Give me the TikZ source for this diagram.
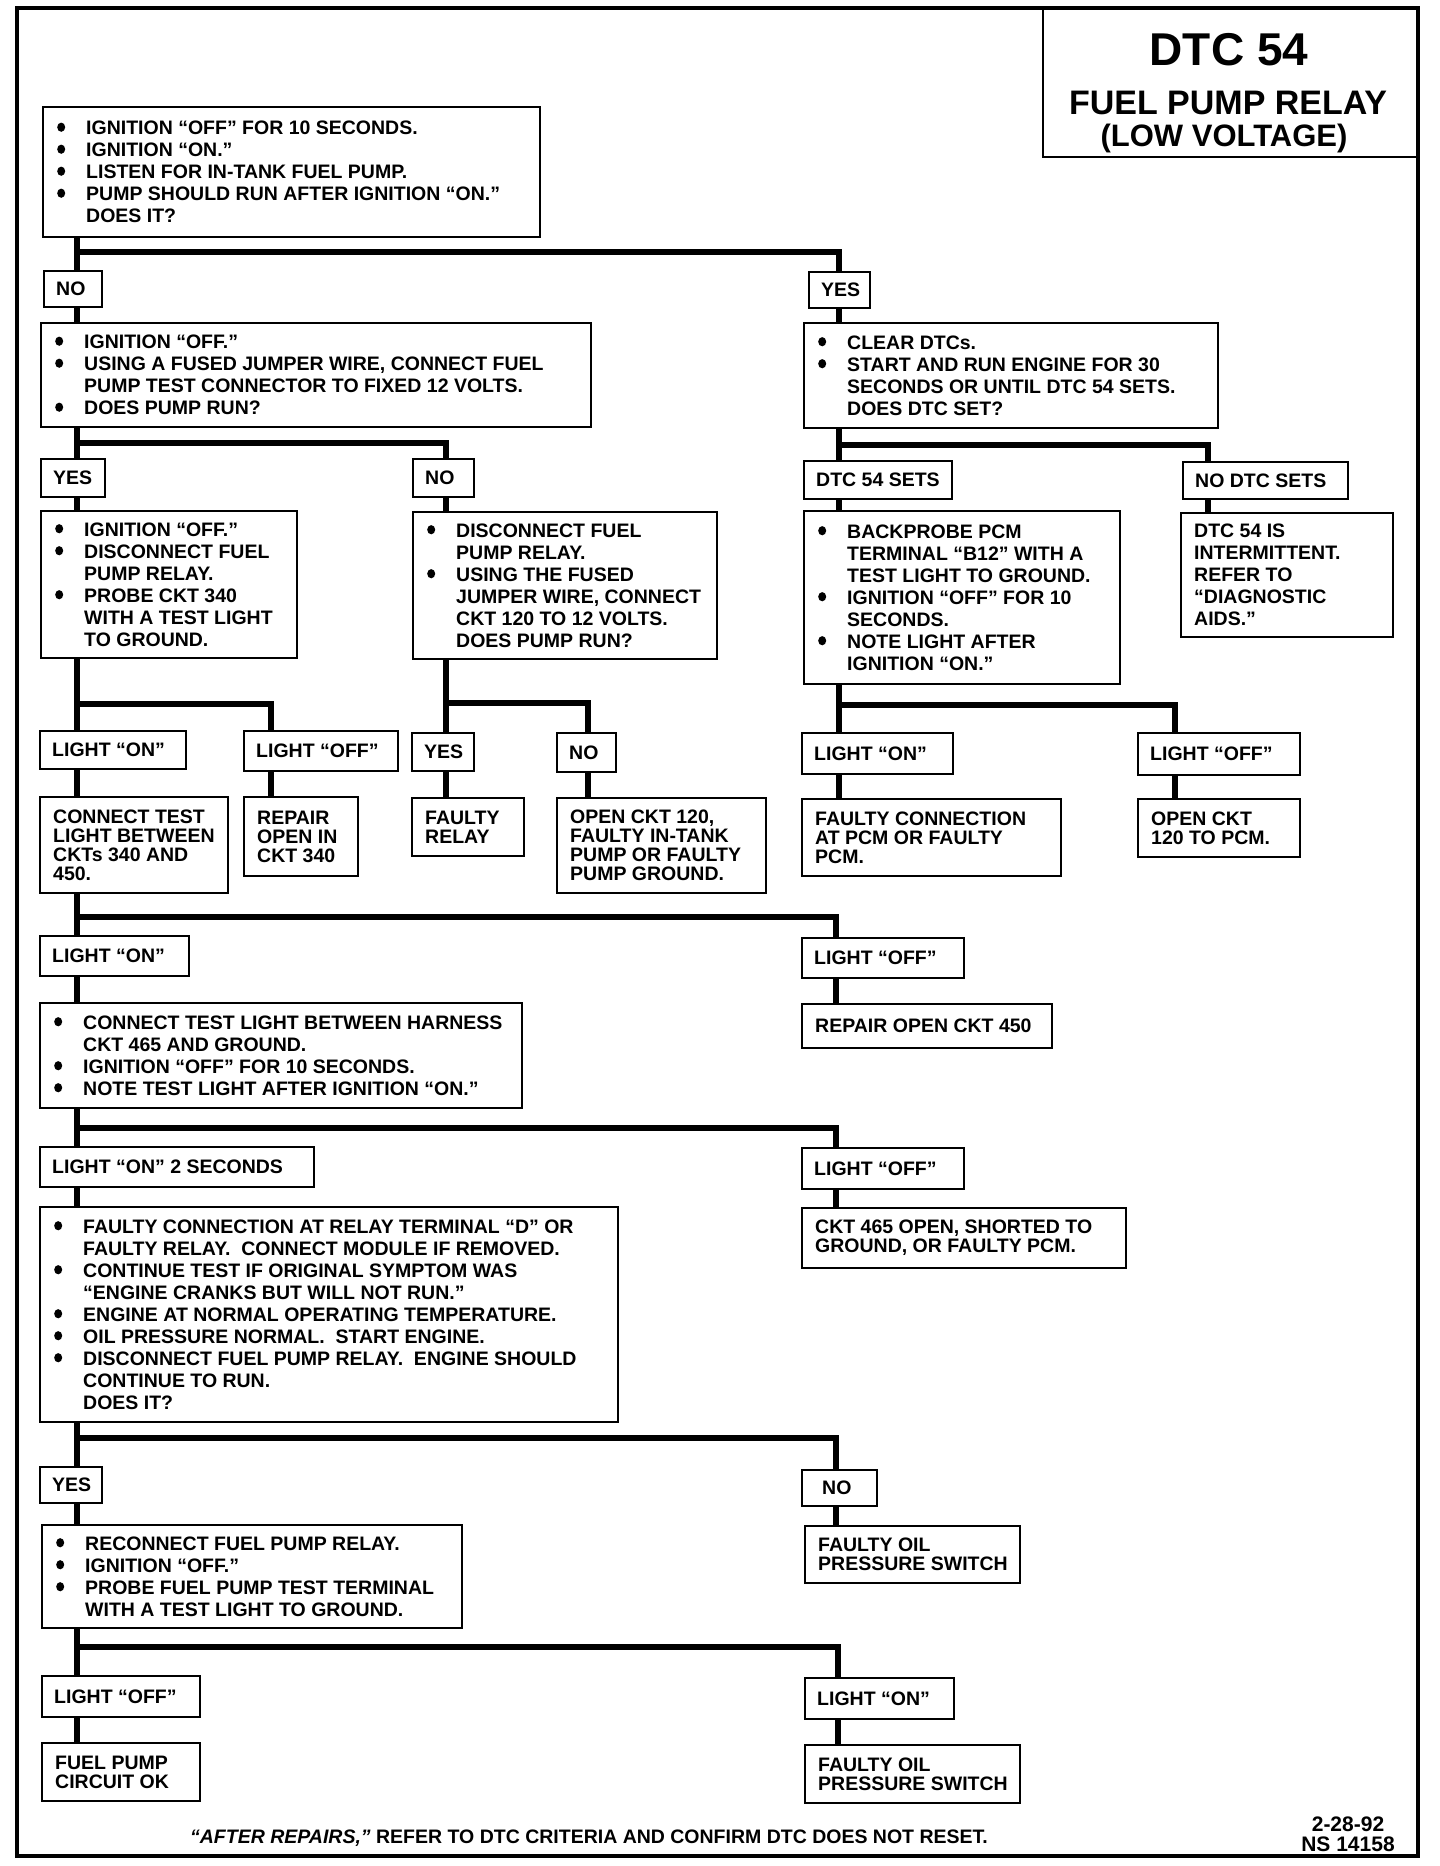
\documentclass[tikz,border=0pt]{standalone}
\usepackage{fontspec}
\setmainfont{Liberation Sans}
\usepackage{graphicx}
\newcommand\bodyfont{\fontsize{19.5}{22}\selectfont\bfseries}
\newcommand\tightfont{\fontsize{19.5}{19}\selectfont\bfseries}
\newcommand\bul{\makebox[30pt][l]{\hspace{1pt}\tikz[baseline=0pt]\fill (0pt,7.5pt) ellipse [x radius=4pt, y radius=4.6pt];}}
\newcommand\ind{\hspace*{30pt}}
\tikzset{
  bx/.style={draw, line width=2pt, anchor=north west, inner sep=0pt, outer sep=0pt},
  txt/.style={anchor=west, inner xsep=13pt, inner ysep=0pt, align=left, font=\bodyfont},
  lab/.style={inner xsep=12pt},
  tight/.style={font=\tightfont},
  conn/.style={line width=5.5pt, line join=miter},
  ttl/.style={anchor=base, inner sep=0pt}
}
% [text opts]{name}{left}{top}{right}{bottom}{text}
\newcommand\fbx[7][]{%
  \node[bx, minimum width={(#5-#3)*1pt}, minimum height={(#6-#4)*1pt}] (#2) at (#3,#4) {};
  \node[txt,#1] (#2t) at (#2.west) {#7};}
\begin{document}
\begin{tikzpicture}[x=1pt,y=-1pt]
\useasboundingbox (0,0) rectangle (1440,1866);

% title
\node[bx, line width=2.5pt, minimum width=375pt, minimum height=149pt] (title) at (1043,8) {};
\node[ttl, font=\fontsize{46}{46}\selectfont\bfseries] (tt1) at (1229,65) {DTC 54};
\node[ttl, font=\fontsize{34}{34}\selectfont\bfseries] (tt2) at (1228,114) {FUEL PUMP RELAY};
\node[ttl, font=\fontsize{31}{31}\selectfont\bfseries] (tt3) at (1224,146) {(LOW VOLTAGE)};
\draw[line width=4.5pt] (17,8) rectangle (1418,1856);

% boxes
\fbx{b1}{43}{107}{540}{237}{\bul IGNITION “OFF” FOR 10 SECONDS.\\\bul IGNITION “ON.”\\\bul LISTEN FOR IN-TANK FUEL PUMP.\\\bul PUMP SHOULD RUN AFTER IGNITION “ON.”\\\ind DOES IT?}
\fbx[lab]{n1}{44}{271}{102}{307}{NO}
\fbx[lab]{y1}{809}{272}{870}{308}{YES}
\fbx{b2}{41}{323}{591}{427}{\bul IGNITION “OFF.”\\\bul USING A FUSED JUMPER WIRE, CONNECT FUEL\\\ind PUMP TEST CONNECTOR TO FIXED 12 VOLTS.\\\bul DOES PUMP RUN?}
\fbx{b3}{804}{323}{1218}{428}{\bul CLEAR DTCs.\\\bul START AND RUN ENGINE FOR 30\\\ind SECONDS OR UNTIL DTC 54 SETS.\\\ind DOES DTC SET?}
\fbx[lab]{y2}{41}{459}{105}{497}{YES}
\fbx[lab]{n2}{413}{459}{474}{497}{NO}
\fbx[lab]{l3}{804}{461}{952}{499}{DTC 54 SETS}
\fbx[lab]{l4}{1183}{462}{1348}{499}{NO DTC SETS}
\fbx{b4}{41}{511}{297}{658}{\bul IGNITION “OFF.”\\\bul DISCONNECT FUEL\\\ind PUMP RELAY.\\\bul PROBE CKT 340\\\ind WITH A TEST LIGHT\\\ind TO GROUND.}
\fbx{b5}{413}{512}{717}{659}{\bul DISCONNECT FUEL\\\ind PUMP RELAY.\\\bul USING THE FUSED\\\ind JUMPER WIRE, CONNECT\\\ind CKT 120 TO 12 VOLTS.\\\ind DOES PUMP RUN?}
\fbx{b6}{804}{511}{1120}{684}{\bul BACKPROBE PCM\\\ind TERMINAL “B12” WITH A\\\ind TEST LIGHT TO GROUND.\\\bul IGNITION “OFF” FOR 10\\\ind SECONDS.\\\bul NOTE LIGHT AFTER\\\ind IGNITION “ON.”}
\fbx{b7}{1181}{513}{1393}{637}{DTC 54 IS\\INTERMITTENT.\\REFER TO\\“DIAGNOSTIC\\AIDS.”}

\fbx[lab]{la}{40}{731}{186}{769}{LIGHT “ON”}
\fbx[lab]{lb}{244}{731}{398}{771}{LIGHT “OFF”}
\fbx[lab]{yc}{412}{733}{474}{771}{YES}
\fbx[lab]{nc}{557}{733}{616}{772}{NO}
\fbx[lab]{ld}{802}{733}{953}{774}{LIGHT “ON”}
\fbx[lab]{le}{1138}{733}{1300}{775}{LIGHT “OFF”}

\fbx[tight]{ra}{40}{797}{228}{893}{CONNECT TEST\\LIGHT BETWEEN\\CKTs 340 AND\\450.}
\fbx[tight]{rb}{244}{797}{358}{876}{REPAIR\\OPEN IN\\CKT 340}
\fbx[tight]{rc}{412}{798}{524}{856}{FAULTY\\RELAY}
\fbx[tight]{rd}{557}{798}{766}{893}{OPEN CKT 120,\\FAULTY IN-TANK\\PUMP OR FAULTY\\PUMP GROUND.}
\fbx[tight]{re}{802}{799}{1061}{876}{FAULTY CONNECTION\\AT PCM OR FAULTY\\PCM.}
\fbx[tight]{rf}{1138}{799}{1300}{857}{OPEN CKT\\120 TO PCM.}

\fbx[lab]{lf}{40}{936}{189}{976}{LIGHT “ON”}
\fbx[lab]{lg}{802}{938}{964}{978}{LIGHT “OFF”}
\fbx{b8}{40}{1003}{522}{1108}{\bul CONNECT TEST LIGHT BETWEEN HARNESS\\\ind CKT 465 AND GROUND.\\\bul IGNITION “OFF” FOR 10 SECONDS.\\\bul NOTE TEST LIGHT AFTER IGNITION “ON.”}
\fbx{rg}{802}{1004}{1052}{1048}{REPAIR OPEN CKT 450}

\fbx[lab]{lh}{40}{1147}{314}{1187}{LIGHT “ON” 2 SECONDS}
\fbx[lab]{li}{802}{1148}{964}{1189}{LIGHT “OFF”}
\fbx{b9}{40}{1207}{618}{1422}{\bul FAULTY CONNECTION AT RELAY TERMINAL “D” OR\\\ind FAULTY RELAY.\ \ CONNECT MODULE IF REMOVED.\\\bul CONTINUE TEST IF ORIGINAL SYMPTOM WAS\\\ind “ENGINE CRANKS BUT WILL NOT RUN.”\\\bul ENGINE AT NORMAL OPERATING TEMPERATURE.\\\bul OIL PRESSURE NORMAL.\ \ START ENGINE.\\\bul DISCONNECT FUEL PUMP RELAY.\ \ ENGINE SHOULD\\\ind CONTINUE TO RUN.\\\ind DOES IT?}
\fbx[tight]{rh}{802}{1208}{1126}{1268}{CKT 465 OPEN, SHORTED TO\\GROUND, OR FAULTY PCM.}

\fbx[lab]{yj}{40}{1467}{102}{1503}{YES}
\fbx[lab,xshift=8pt]{nj}{802}{1470}{877}{1506}{NO}
\fbx{b10}{42}{1525}{462}{1628}{\bul RECONNECT FUEL PUMP RELAY.\\\bul IGNITION “OFF.”\\\bul PROBE FUEL PUMP TEST TERMINAL\\\ind WITH A TEST LIGHT TO GROUND.}
\fbx[tight]{rj}{805}{1526}{1020}{1583}{FAULTY OIL\\PRESSURE SWITCH}

\fbx[lab]{lk}{42}{1676}{200}{1717}{LIGHT “OFF”}
\fbx[lab]{ll}{805}{1678}{954}{1719}{LIGHT “ON”}
\fbx[tight]{rk}{42}{1743}{200}{1801}{FUEL PUMP\\CIRCUIT OK}
\fbx[tight]{rl}{805}{1745}{1020}{1803}{FAULTY OIL\\PRESSURE SWITCH}

% connectors
\coordinate (j1) at (77,252); \coordinate (k1) at (839,252);
\draw[conn] (b1.south -| j1) -- (n1.north -| j1);
\draw[conn] (j1) -- (k1) -- (y1.north -| k1);
\draw[conn] (n1.south -| j1) -- (b2.north -| j1);
\draw[conn] (y1.south -| k1) -- (b3.north -| k1);

\coordinate (j2) at (77,443); \coordinate (k2) at (446,443);
\draw[conn] (b2.south -| j2) -- (y2.north -| j2);
\draw[conn] (j2) -- (k2) -- (n2.north -| k2);
\draw[conn] (y2.south -| j2) -- (b4.north -| j2);
\draw[conn] (n2.south -| k2) -- (b5.north -| k2);

\coordinate (j3) at (839,445); \coordinate (k3) at (1208,445);
\draw[conn] (b3.south -| j3) -- (l3.north -| j3);
\draw[conn] (j3) -- (k3) -- (l4.north -| k3);
\draw[conn] (l3.south -| j3) -- (b6.north -| j3);
\draw[conn] (l4.south -| k3) -- (b7.north -| k3);

\coordinate (j4) at (77,704); \coordinate (k4) at (271,704);
\draw[conn] (b4.south -| j4) -- (la.north -| j4);
\draw[conn] (j4) -- (k4) -- (lb.north -| k4);
\draw[conn] (la.south -| j4) -- (ra.north -| j4);
\draw[conn] (lb.south -| k4) -- (rb.north -| k4);

\coordinate (j5) at (446,703); \coordinate (k5) at (588,703);
\draw[conn] (b5.south -| j5) -- (yc.north -| j5);
\draw[conn] (j5) -- (k5) -- (nc.north -| k5);
\draw[conn] (yc.south -| j5) -- (rc.north -| j5);
\draw[conn] (nc.south -| k5) -- (rd.north -| k5);

\coordinate (j6) at (839,705); \coordinate (k6) at (1175,705);
\draw[conn] (b6.south -| j6) -- (ld.north -| j6);
\draw[conn] (j6) -- (k6) -- (le.north -| k6);
\draw[conn] (ld.south -| j6) -- (re.north -| j6);
\draw[conn] (le.south -| k6) -- (rf.north -| k6);

\coordinate (j7) at (77,917); \coordinate (k7) at (836,917);
\draw[conn] (ra.south -| j7) -- (lf.north -| j7);
\draw[conn] (j7) -- (k7) -- (lg.north -| k7);
\draw[conn] (lf.south -| j7) -- (b8.north -| j7);
\draw[conn] (lg.south -| k7) -- (rg.north -| k7);

\coordinate (j8) at (77,1128); \coordinate (k8) at (836,1128);
\draw[conn] (b8.south -| j8) -- (lh.north -| j8);
\draw[conn] (j8) -- (k8) -- (li.north -| k8);
\draw[conn] (lh.south -| j8) -- (b9.north -| j8);
\draw[conn] (li.south -| k8) -- (rh.north -| k8);

\coordinate (j9) at (77,1438); \coordinate (k9) at (836,1438);
\draw[conn] (b9.south -| j9) -- (yj.north -| j9);
\draw[conn] (j9) -- (k9) -- (nj.north -| k9);
\draw[conn] (yj.south -| j9) -- (b10.north -| j9);
\draw[conn] (nj.south -| k9) -- (rj.north -| k9);

\coordinate (j10) at (77,1647); \coordinate (k10) at (838,1647);
\draw[conn] (b10.south -| j10) -- (lk.north -| j10);
\draw[conn] (j10) -- (k10) -- (ll.north -| k10);
\draw[conn] (lk.south -| j10) -- (rk.north -| j10);
\draw[conn] (ll.south -| k10) -- (rl.north -| k10);

% footer
\node[ttl, font=\bodyfont] (foot) at (589,1843) {\textit{“AFTER REPAIRS,”} REFER TO DTC CRITERIA AND CONFIRM DTC DOES NOT RESET.};
\node[ttl, font=\fontsize{21}{21}\selectfont\bfseries] (d1) at (1348,1831) {2-28-92};
\node[ttl, font=\fontsize{21}{21}\selectfont\bfseries] (d2) at (1348,1851) {NS 14158};
\end{tikzpicture}
\end{document}
